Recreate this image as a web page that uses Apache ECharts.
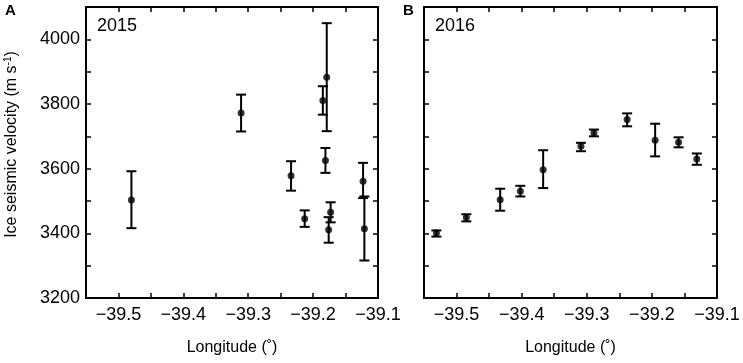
<!DOCTYPE html>
<html>
<head>
<meta charset="utf-8">
<script src="https://cdn.jsdelivr.net/npm/echarts@6/dist/echarts.min.js"></script>
<style>
body { margin: 0; background: #fff; }
#chart { width: 743px; height: 363px; }
</style>
</head>
<body>
<div id="chart"></div>
<script>
// 2015 (panel A)
var lonA  = [-39.480, -39.311, -39.234, -39.213, -39.185, -39.179, -39.181, -39.176, -39.173, -39.123, -39.121];
var velA  = [3503, 3772, 3578, 3445, 3811, 3883, 3625, 3411, 3465, 3561, 3414];
var lowA  = [3416, 3715, 3532, 3420, 3767, 3716, 3587, 3371, 3434, 3509, 3316];
var highA = [3592, 3829, 3623, 3471, 3855, 4050, 3664, 3450, 3496, 3618, 3514];

// 2016 (panel B)
var lonB  = [-39.531, -39.485, -39.433, -39.402, -39.367, -39.309, -39.289, -39.238, -39.195, -39.159, -39.131];
var velB  = [3401, 3449, 3504, 3530, 3597, 3669, 3711, 3752, 3688, 3682, 3630];
var lowB  = [3390, 3437, 3470, 3514, 3540, 3654, 3700, 3731, 3638, 3666, 3612];
var highB = [3409, 3459, 3538, 3547, 3657, 3680, 3721, 3771, 3739, 3697, 3647];

var xTicks = { min: -39.55, max: -39.1, step: 0.05 };
var yTicks = { min: 3200, max: 4100, step: 100 };

var font = 'Liberation Sans, Arial, Helvetica, sans-serif';

function xLabel(v) {
    if (Math.abs(Math.round(v * 10) - v * 10) > 1e-6) return '';
    return (v < 0 ? '\u2212' : '') + Math.abs(v).toFixed(1);
}
function yLabel(v) {
    return (Math.round(v) % 200 === 0) ? String(Math.round(v)) : '';
}

function makeX(grid, pos, labels) {
    return {
        type: 'value', gridIndex: grid, position: pos,
        min: xTicks.min, max: xTicks.max, interval: xTicks.step,
        axisLine: { show: true, onZero: false, lineStyle: { color: '#000', width: 2 } },
        axisTick: { show: true, inside: true, length: 5, lineStyle: { color: '#000', width: 1.5 } },
        axisLabel: { show: labels, formatter: xLabel, color: '#000', fontSize: 18, fontFamily: font, margin: 8 },
        splitLine: { show: false },
        name: labels ? 'Longitude (\u02DA)' : '',
        nameLocation: 'middle', nameGap: 42,
        nameTextStyle: { color: '#000', fontSize: 16, fontFamily: font }
    };
}
function makeY(grid, pos, labels, name) {
    return {
        type: 'value', gridIndex: grid, position: pos,
        min: yTicks.min, max: yTicks.max, interval: yTicks.step,
        axisLine: { show: true, onZero: false, lineStyle: { color: '#000', width: 2 } },
        axisTick: { show: true, inside: true, length: 5, lineStyle: { color: '#000', width: 1.5 } },
        axisLabel: { show: labels, formatter: yLabel, color: '#000', fontSize: 18, fontFamily: font, margin: 6 },
        splitLine: { show: false },
        name: name ? '{a|Ice seismic velocity (m s}{s|-1}{a|)}' : '',
        nameLocation: 'middle', nameGap: 65,
        nameTextStyle: {
            color: '#000', fontSize: 16, fontFamily: font,
            padding: [0, 0, 0, 16],
            rich: {
                a: { fontSize: 16, fontFamily: font, color: '#000', lineHeight: 18 },
                s: { fontSize: 10, fontFamily: font, color: '#000', verticalAlign: 'top', lineHeight: 18 }
            }
        }
    };
}

function errorBar(params, api) {
    var x = api.value(0);
    var lo = api.coord([x, api.value(1)]);
    var hi = api.coord([x, api.value(2)]);
    var w = 5;
    var st = { stroke: '#000', lineWidth: 2 };
    return {
        type: 'group',
        children: [
            { type: 'line', shape: { x1: lo[0], y1: lo[1], x2: hi[0], y2: hi[1] }, style: st },
            { type: 'line', shape: { x1: hi[0] - w, y1: hi[1], x2: hi[0] + w, y2: hi[1] }, style: st },
            { type: 'line', shape: { x1: lo[0] - w, y1: lo[1], x2: lo[0] + w, y2: lo[1] }, style: st }
        ]
    };
}

function zip3(a, b, c) {
    return a.map(function (v, i) { return [v, b[i], c[i]]; });
}
function zip2(a, b) {
    return a.map(function (v, i) { return [v, b[i]]; });
}

var chart = echarts.init(document.getElementById('chart'), null, { renderer: 'canvas' });
var option = {
    backgroundColor: '#fff',
    animation: false,
    grid: [
        { left: 86, top: 7, width: 292, height: 291 },
        { left: 424, top: 7, width: 293, height: 291 }
    ],
    xAxis: [makeX(0, 'bottom', true), makeX(0, 'top', false), makeX(1, 'bottom', true), makeX(1, 'top', false)],
    yAxis: [makeY(0, 'left', true, true), makeY(0, 'right', false, false), makeY(1, 'left', false, false), makeY(1, 'right', false, false)],
    graphic: [
        { type: 'text', left: 5, top: 3, style: { text: 'A', font: 'bold 15px ' + font, fill: '#000' } },
        { type: 'text', left: 403, top: 3, style: { text: 'B', font: 'bold 15px ' + font, fill: '#000' } },
        { type: 'text', left: 97, top: 17, style: { text: '2015', font: '18px ' + font, fill: '#000' } },
        { type: 'text', left: 435, top: 17, style: { text: '2016', font: '18px ' + font, fill: '#000' } }
    ],
    series: [
        { type: 'custom', xAxisIndex: 0, yAxisIndex: 0, renderItem: errorBar, encode: { x: 0, y: [1, 2] }, data: zip3(lonA, lowA, highA), z: 2 },
        { type: 'scatter', xAxisIndex: 0, yAxisIndex: 0, symbolSize: 7, itemStyle: { color: '#000' }, data: zip2(lonA, velA), z: 3 },
        { type: 'custom', xAxisIndex: 2, yAxisIndex: 2, renderItem: errorBar, encode: { x: 0, y: [1, 2] }, data: zip3(lonB, lowB, highB), z: 2 },
        { type: 'scatter', xAxisIndex: 2, yAxisIndex: 2, symbolSize: 7, itemStyle: { color: '#000' }, data: zip2(lonB, velB), z: 3 }
    ]
};
chart.setOption(option);
</script>
</body>
</html>
